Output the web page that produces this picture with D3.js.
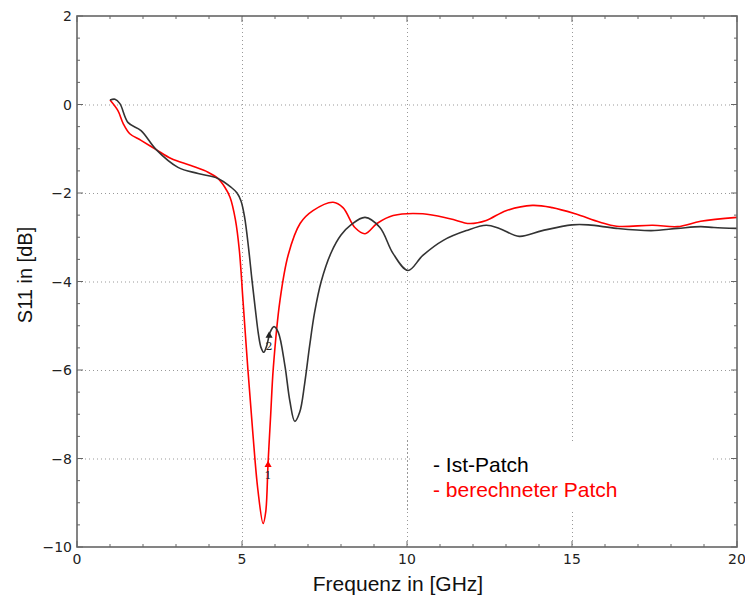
<!DOCTYPE html>
<html><head><meta charset="utf-8">
<script src="https://cdn.jsdelivr.net/npm/d3@7"></script>
<style>body{margin:0;background:#fff;} svg{display:block;}</style>
</head><body>
<svg id="chart" width="745" height="598"></svg>
<script>
const xTicks = [0, 5, 10, 15, 20];
const yTicks = [-10, -8, -6, -4, -2, 0, 2];
const seriesNames = ["- Ist-Patch", "- berechneter Patch"];
const seriesColors = ["#333333", "#ff0000"];

const istFreq = [1.0, 1.15, 1.3, 1.55, 1.94, 2.4, 3.06, 3.67, 4.27, 4.67, 4.85, 4.97, 5.08, 5.2, 5.3, 5.4, 5.5, 5.58, 5.66, 5.75, 5.85, 5.97, 6.1, 6.3, 6.45, 6.6, 6.75, 6.9, 7.05, 7.2, 7.4, 7.7, 8.0, 8.3, 8.73, 9.18, 9.58, 10.03, 10.48, 11.1, 11.8, 12.4, 12.8, 13.4, 14.1, 15.0, 15.5, 16.35, 17.4, 18.2, 18.9, 19.3, 20.0];
const istS11 = [0.1, 0.12, 0.02, -0.41, -0.59, -1.02, -1.42, -1.56, -1.67, -1.87, -2.0, -2.18, -2.55, -3.25, -3.95, -4.6, -5.2, -5.5, -5.6, -5.45, -5.15, -5.02, -5.15, -5.9, -6.7, -7.16, -6.95, -6.3, -5.45, -4.7, -4.0, -3.35, -2.95, -2.72, -2.55, -2.78, -3.37, -3.75, -3.41, -3.07, -2.85, -2.73, -2.8, -2.98, -2.85, -2.72, -2.72, -2.8, -2.85, -2.8, -2.76, -2.78, -2.8];

const calcFreq = [1.0, 1.24, 1.4, 1.6, 1.94, 2.4, 2.85, 3.45, 3.97, 4.27, 4.48, 4.64, 4.8, 4.92, 5.03, 5.18, 5.33, 5.48, 5.64, 5.72, 5.79, 5.87, 5.95, 6.15, 6.4, 6.76, 7.15, 7.76, 8.06, 8.42, 8.73, 9.09, 9.58, 10.48, 11.3, 11.9, 12.4, 13.0, 13.8, 14.4, 15.1, 15.85, 16.35, 17.45, 18.2, 18.9, 20.0];
const calcS11 = [0.1, -0.14, -0.43, -0.66, -0.81, -1.02, -1.22, -1.38, -1.53, -1.67, -1.87, -2.1, -2.6, -3.3, -4.43, -6.0, -7.44, -8.7, -9.47, -9.2, -8.1, -7.0, -5.94, -4.43, -3.4, -2.69, -2.4, -2.21, -2.33, -2.78, -2.92, -2.69, -2.51, -2.47, -2.58, -2.69, -2.62, -2.4, -2.28, -2.33, -2.47, -2.66, -2.75, -2.73, -2.76, -2.64, -2.55];

const markerFreq = [5.79, 5.82];
const markerS11 = [-8.1, -5.18];
const markerLabels = ["1", "2"];
const markerColors = ["#ff0000", "#222222"];

const svg = d3.select("#chart");
const L = 77, R = 737, T = 16, B = 547;
const x = d3.scaleLinear().domain([0, 20]).range([L, R]);
const y = d3.scaleLinear().domain([-10, 2]).range([B, T]);

// grid
const grid = svg.append("g").attr("stroke", "#999").attr("stroke-width", 1).attr("stroke-dasharray", "1,3");
grid.selectAll("line.v").data(xTicks.filter(d => d > 0 && d < 20)).join("line")
  .attr("x1", d => x(d) + 0.5).attr("x2", d => x(d) + 0.5).attr("y1", T).attr("y2", B);
grid.selectAll("line.h").data(yTicks.filter(d => d > -10 && d < 2)).join("line")
  .attr("y1", d => y(d) + 0.5).attr("y2", d => y(d) + 0.5).attr("x1", L).attr("x2", R);

// legend background box (covers grid)
svg.append("rect").attr("x", 411).attr("y", 441).attr("width", 301).attr("height", 71).attr("fill", "#fff");
svg.append("line").attr("x1", x(10) + 0.5).attr("x2", x(10) + 0.5).attr("y1", 441).attr("y2", 512)
  .attr("stroke", "#999").attr("stroke-dasharray", "1,3");

// lines
const line = d3.line().x(d => x(d[0])).y(d => y(d[1])).curve(d3.curveCatmullRom.alpha(0.5));
const ist = istFreq.map((f, i) => [f, istS11[i]]);
const calc = calcFreq.map((f, i) => [f, calcS11[i]]);
svg.append("path").datum(calc).attr("d", line).attr("fill", "none").attr("stroke", seriesColors[1]).attr("stroke-width", 1.6);
svg.append("path").datum(ist).attr("d", line).attr("fill", "none").attr("stroke", seriesColors[0]).attr("stroke-width", 1.6);

// markers
markerFreq.forEach((f, i) => {
  const mx = x(f), my = y(markerS11[i]);
  svg.append("path").attr("d", d3.symbol().type(d3.symbolTriangle).size(22)())
    .attr("transform", `translate(${mx},${my + 2})`).attr("fill", markerColors[i]);
  svg.append("text").attr("x", mx).attr("y", my + 16).attr("text-anchor", "middle")
    .attr("font-family", "DejaVu Serif, serif").attr("font-size", 11).attr("fill", "#222").text(markerLabels[i]);
});

// axes frame
const axG = svg.append("g");
axG.append("rect").attr("x", L).attr("y", T).attr("width", R - L).attr("height", B - T)
  .attr("fill", "none").attr("stroke", "#666").attr("stroke-width", 1.6);

// ticks (inward, all sides)
const xMinor = d3.range(0, 21, 1);
const yMinor = d3.range(-10, 2.01, 0.5);
const tk = axG.append("g").attr("stroke", "#666").attr("stroke-width", 1);
xMinor.forEach(v => {
  const major = v % 5 === 0;
  const len = major ? 6 : 3;
  tk.append("line").attr("x1", x(v)).attr("x2", x(v)).attr("y1", B).attr("y2", B - len);
  tk.append("line").attr("x1", x(v)).attr("x2", x(v)).attr("y1", T).attr("y2", T + len);
});
yMinor.forEach(v => {
  const major = Math.abs(v % 2) < 1e-9;
  const len = major ? 6 : 3;
  tk.append("line").attr("y1", y(v)).attr("y2", y(v)).attr("x1", L).attr("x2", L + len);
  tk.append("line").attr("y1", y(v)).attr("y2", y(v)).attr("x1", R).attr("x2", R - len);
});

// tick labels
const fmt = v => (v < 0 ? "\u2212" + Math.abs(v) : String(v));
svg.append("g").selectAll("text").data(xTicks).join("text")
  .attr("x", d => x(d)).attr("y", B + 17).attr("text-anchor", "middle")
  .attr("font-family", "DejaVu Sans, sans-serif").attr("font-size", 14).attr("fill", "#222").text(fmt);
svg.append("g").selectAll("text").data(yTicks).join("text")
  .attr("x", L - 5).attr("y", d => y(d) + 5).attr("text-anchor", "end")
  .attr("font-family", "DejaVu Sans, sans-serif").attr("font-size", 14).attr("fill", "#222").text(fmt);

// axis labels
svg.append("text").attr("x", 398).attr("y", 591).attr("text-anchor", "middle")
  .attr("font-family", "Liberation Sans, Arial, sans-serif").attr("font-size", 21).attr("fill", "#111").text("Frequenz in [GHz]");
svg.append("text").attr("transform", "translate(32,275) rotate(-90)").attr("text-anchor", "middle")
  .attr("font-family", "Liberation Sans, Arial, sans-serif").attr("font-size", 20).attr("fill", "#111").text("S11 in [dB]");

// legend
seriesNames.forEach((n, i) => {
  svg.append("text").attr("x", 433).attr("y", 472 + i * 25)
    .attr("font-family", "Liberation Sans, Arial, sans-serif").attr("font-size", 21)
    .attr("fill", i === 0 ? "#000" : "#ff0000").text(n);
});
</script>
</body></html>
